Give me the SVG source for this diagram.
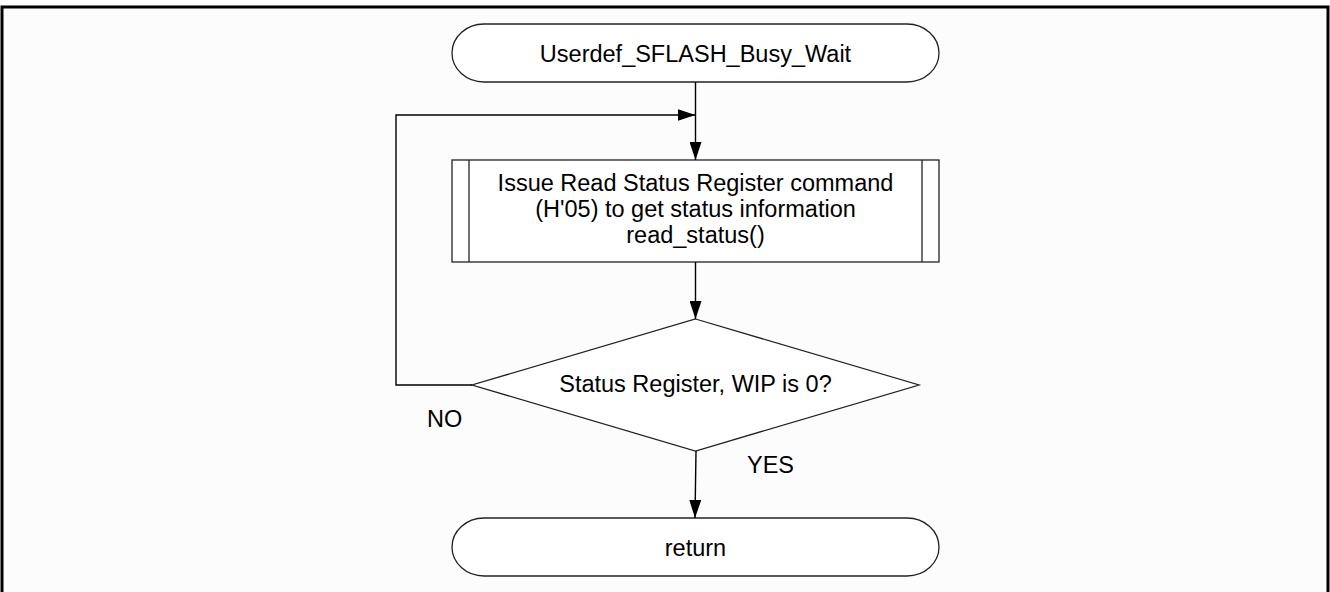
<svg xmlns="http://www.w3.org/2000/svg" width="1330" height="592" viewBox="0 0 1330 592">
  <style>
    .node { fill: #ffffff; stroke: #222222; stroke-width: 1.3; }
    .inner { fill: none; stroke: #222222; stroke-width: 1.3; }
    .conn { fill: none; stroke: #000000; stroke-width: 1.4; }
    .t { font-family: "Liberation Sans", Arial, sans-serif; font-size: 23.5px; fill: #000000; text-anchor: middle; }
    .lbl { font-family: "Liberation Sans", Arial, sans-serif; font-size: 23.5px; fill: #000000; }
  </style>
  <defs>
    <marker id="arrow" markerUnits="userSpaceOnUse" markerWidth="18" markerHeight="12" refX="18" refY="6" orient="auto">
      <path d="M0,0 L18,6 L0,12 z" fill="#000000"/>
    </marker>
  </defs>
  <rect x="0" y="0" width="1330" height="592" fill="#ffffff"/>
  <rect x="2" y="7" width="1326" height="590" fill="#fcfcfc"/>
  <path d="M2,592 V7 H1328 V592" fill="none" stroke="#000000" stroke-width="3"/>

  <g id="start">
    <rect class="node" x="452" y="24" width="487" height="58" rx="32" ry="29"/>
    <text class="t" x="695.5" y="61.5">Userdef_SFLASH_Busy_Wait</text>
  </g>

  <g id="read_status">
    <rect class="node" x="452" y="160" width="487" height="102"/>
    <line class="inner" x1="469" y1="160" x2="469" y2="262"/>
    <line class="inner" x1="922" y1="160" x2="922" y2="262"/>
    <text class="t" x="695.5" y="191">Issue Read Status Register command</text>
    <text class="t" x="695.5" y="217">(H'05) to get status information</text>
    <text class="t" x="695.5" y="243">read_status()</text>
  </g>

  <g id="decision">
    <polygon class="node" points="695.5,319 919,385 695.5,451 472,385"/>
    <text class="t" x="695.5" y="392">Status Register, WIP is 0?</text>
  </g>

  <g id="return">
    <rect class="node" x="452" y="518" width="487" height="58" rx="32" ry="29"/>
    <text class="t" x="695.5" y="555.5">return</text>
  </g>

  <g id="connectors">
    <path class="conn" d="M695.5,82 V160" marker-end="url(#arrow)"/>
    <path class="conn" d="M472,385 H396 V115 H695.5" marker-end="url(#arrow)"/>
    <path class="conn" d="M695.5,262 V319" marker-end="url(#arrow)"/>
    <path class="conn" d="M696,451 L695,518" marker-end="url(#arrow)"/>
    <text class="lbl" x="427" y="427">NO</text>
    <text class="lbl" x="747" y="473">YES</text>
  </g>
</svg>
